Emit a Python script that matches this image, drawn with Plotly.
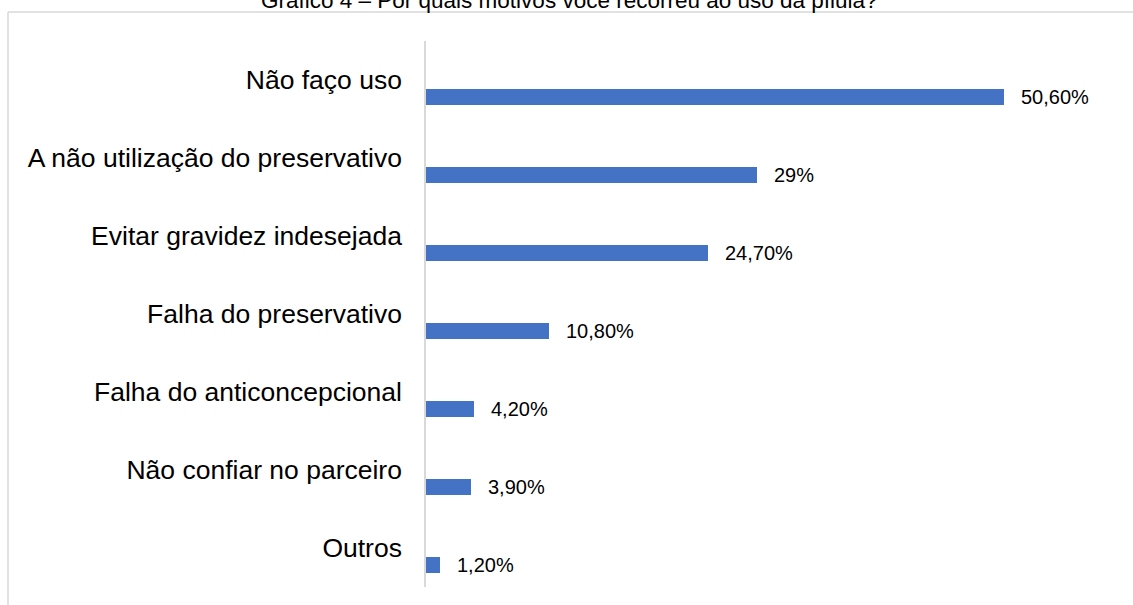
import plotly.graph_objects as go

# Survey answers: reasons for using the morning-after pill
categorias = [
    "Não faço uso",
    "A não utilização do preservativo",
    "Evitar gravidez indesejada",
    "Falha do preservativo",
    "Falha do anticoncepcional",
    "Não confiar no parceiro",
    "Outros",
]
percentuais = [50.6, 29, 24.7, 10.8, 4.2, 3.9, 1.2]
rotulos = ["50,60%", "29%", "24,70%", "10,80%", "4,20%", "3,90%", "1,20%"]

titulo = "Gráfico 4 – Por quais motivos você recorreu ao uso da pílula?"

W, H = 1133, 605
ML, MR, MT, MB = 426, 13, 41, 18
FONT = "Liberation Sans, Arial, sans-serif"
BAR_COLOR = "#4472C4"
GRID_GRAY = "#D9D9D9"

fig = go.Figure()
fig.add_trace(go.Bar(
    y=categorias,
    x=percentuais,
    orientation="h",
    marker=dict(color=BAR_COLOR, line=dict(width=0)),
    width=0.2,
    offset=0.115,
    hoverinfo="skip",
))

# value labels just right of each bar end
for cat, val, txt in zip(categorias, percentuais, rotulos):
    fig.add_annotation(
        x=val, y=cat, text=txt, showarrow=False,
        xanchor="left", yanchor="middle",
        xshift=15, yshift=-17,
        font=dict(family=FONT, size=20, color="#000000"),
    )

plot_w = W - ML - MR
plot_h = H - MT - MB

# chart title, partly above the frame
fig.add_annotation(
    xref="paper", yref="paper",
    x=(W / 2 + 3 - ML) / plot_w, y=1,
    xanchor="center", yanchor="bottom", yshift=26,
    text=titulo, showarrow=False,
    font=dict(family=FONT, size=22.5, color="#000000"),
)

# outer chart frame (top and left edges visible)
fx0 = (8 - ML) / plot_w
fy_top = 1 + (MT - 12) / plot_h
fig.add_shape(type="line", xref="paper", yref="paper",
              x0=fx0, x1=1 + (MR + 20) / plot_w, y0=fy_top, y1=fy_top,
              line=dict(color=GRID_GRAY, width=1.5))
fig.add_shape(type="line", xref="paper", yref="paper",
              x0=fx0, x1=fx0, y0=fy_top, y1=-(MB + 20) / plot_h,
              line=dict(color=GRID_GRAY, width=1.5))

fig.update_layout(
    width=W, height=H,
    margin=dict(l=ML, r=MR, t=MT, b=MB, pad=0),
    paper_bgcolor="white", plot_bgcolor="white",
    showlegend=False,
    bargap=0,
    font=dict(family=FONT, color="#000000"),
    xaxis=dict(range=[0, 60.8], visible=False, fixedrange=True),
    yaxis=dict(
        type="category",
        range=[6.5, -0.5],
        showline=True, linecolor=GRID_GRAY, linewidth=1.5,
        showgrid=False, zeroline=False,
        ticks="", ticklabelstandoff=17,
        tickfont=dict(family=FONT, size=26.5, color="#000000"),
        fixedrange=True,
    ),
)

fig.write_html("out.html", config={"displayModeBar": False})
